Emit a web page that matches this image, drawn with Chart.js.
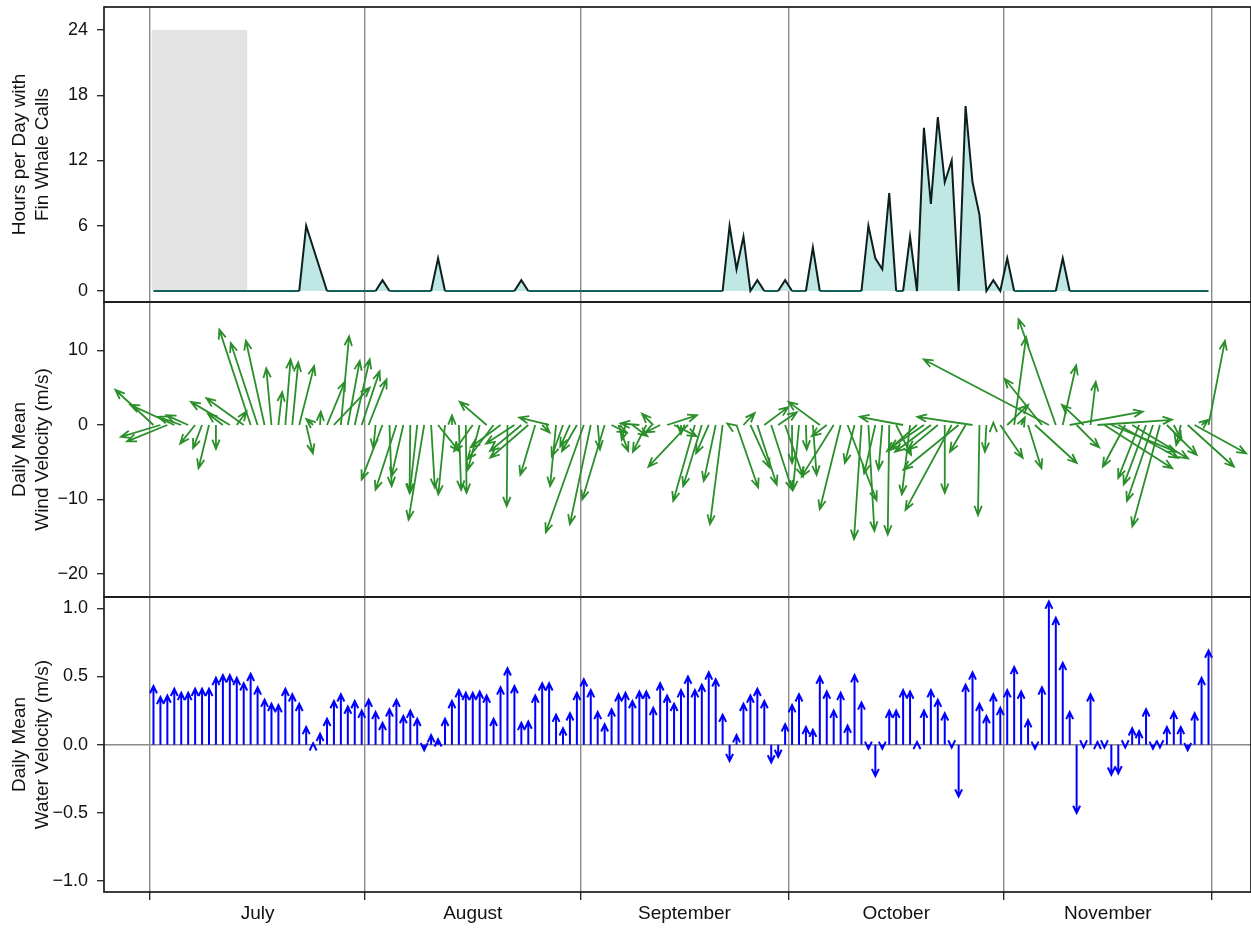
<!DOCTYPE html>
<html><head><meta charset="utf-8">
<script src="https://cdn.jsdelivr.net/npm/chart.js@4.4.1/dist/chart.umd.min.js"></script>
<style>
html,body{margin:0;padding:0;background:#fff;}
#wrap{position:relative;width:1251px;height:928px;overflow:hidden;}
#wrap canvas{position:absolute;left:0;top:0;}
</style></head><body>
<div id="wrap">
<canvas id="c1" width="1251" height="928"></canvas>
<canvas id="c2" width="1251" height="928"></canvas>
<canvas id="c3" width="1251" height="928"></canvas>
</div>
<script>
// ---------------- data ----------------
const monthNames = ['July', 'August', 'September', 'October', 'November'];
const monthStartDays = [0, 31, 62, 92, 123, 153];
const monthMidDays = [15.5, 46.5, 77, 107.5, 138];

// hours per day with fin whale calls (1 Jul .. 30 Nov)
const whaleHours = [
  0,0,0,0,0,0,0,0,0,0,
  0,0,0,0,0,0,0,0,0,0,
  0,0,6,4,2,0,0,0,0,0,
  0,0,0,1,0,0,0,0,0,0,
  0,3,0,0,0,0,0,0,0,0,
  0,0,0,1,0,0,0,0,0,0,
  0,0,0,0,0,0,0,0,0,0,
  0,0,0,0,0,0,0,0,0,0,
  0,0,0,6,2,5,0,1,0,0,
  0,1,0,0,0,4,0,0,0,0,
  0,0,0,6,3,2,9,0,0,5,
  0,15,8,16,10,12,0,17,10,7,
  0,1,0,3,0,0,0,0,0,0,
  0,3,0,0,0,0,0,0,0,0,
  0,0,0,0,0,0,0,0,0,0,
  0,0,0
];
const noDataStart = 0.25, noDataEnd = 14, noDataTop = 24;

// daily mean wind velocity components (m/s)
const windU = [
  -5.1,-5.3,-5.4,-5.9,-3.1,-2.9,-2.0,-1.2,-1.4,0.0,
  -2.0,-5.2,1.3,-5.0,-4.2,-3.6,-2.5,-0.7,0.5,0.7,
  0.8,2.0,0.9,-0.9,0.1,2.4,4.8,1.1,1.6,2.0,
  2.4,2.4,-0.3,-2.8,0.3,-2.8,-1.6,-0.1,-1.0,-2.1,
  0.5,2.8,-0.9,0.0,0.3,0.1,-2.5,-1.6,-3.6,-3.5,
  -4.0,-0.1,-3.8,-4.2,-5.1,-2.0,1.0,-4.0,-0.8,-1.5,
  -1.3,-2.0,-5.1,-2.8,0.3,-3.0,2.0,1.3,-0.5,2.0,
  -2.5,-1.8,-1.5,-2.0,4.0,3.0,0.0,-5.3,-2.9,-2.5,
  -1.7,-1.6,-1.7,-0.3,2.9,1.5,2.6,2.6,3.2,2.8,
  2.5,2.4,0.0,-0.8,0.1,0.5,-4.2,-2.0,-4.3,-2.8,
  3.9,-1.3,-1.0,0.8,-1.5,-0.5,-0.2,2.0,-5.8,-1.1,
  -4.0,-4.5,-4.8,-4.0,0.0,-6.2,-7.4,-2.1,-7.4,-0.2,
  -0.2,0.0,3.0,2.8,1.6,0.5,1.8,5.6,-5.0,-16.8,
  -5.0,1.8,9.8,3.0,-2.9,0.7,10.0,9.1,8.7,8.0,
  -3.0,7.5,-2.8,-3.0,-3.5,-3.7,4.0,1.0,-0.6,6.2,
  6.9,0.9,2.2
];
const windV = [
  4.7,-1.6,-2.2,2.7,1.1,1.3,-2.5,-3.1,-5.8,-3.2,
  1.5,3.1,1.8,3.6,12.8,11.0,11.3,7.6,4.4,8.8,
  8.4,7.9,-3.8,0.8,1.8,5.8,5.0,11.9,8.6,8.8,
  7.2,6.1,-3.1,-7.3,-8.2,-8.7,-6.9,-9.1,-9.1,-12.7,
  -8.4,-3.5,-9.3,1.3,-8.7,-9.1,-3.5,-6.0,3.1,-4.6,
  -3.0,-10.9,-2.5,-3.5,-4.4,-6.7,-1.0,1.0,-8.2,-4.2,
  -2.9,-3.5,-14.4,-13.3,-3.3,-10.0,-1.0,-3.5,-2.0,-1.5,
  0.2,-3.6,1.5,-1.0,1.3,-1.5,-1.2,-5.6,-10.2,-8.2,
  -3.8,-7.5,-13.3,0.2,-8.4,1.6,-5.7,-8.0,2.4,-8.7,
  1.7,-6.9,-5.1,-8.7,-3.3,-6.7,3.1,-1.5,-6.9,-11.3,
  -10.1,-5.1,-15.3,-14.2,-6.5,-6.0,-14.7,-4.0,1.1,-9.3,
  -3.5,-3.1,-3.6,-3.3,-9.1,-11.4,-6.0,-3.6,1.1,-12.1,
  -3.6,0.3,-4.4,2.7,11.8,1.0,-5.8,-5.1,6.2,8.8,
  14.2,8.0,1.8,-3.0,2.7,5.8,0.7,-5.8,-3.6,-4.4,
  -5.6,-4.5,-7.1,-8.0,-10.2,-13.6,-4.0,-2.0,-2.7,-5.6,
  -3.8,0.7,11.3
];

// daily mean water velocity, along-axis component (m/s)
const waterV = [
  0.43,0.35,0.36,0.41,0.38,0.38,0.41,0.41,0.41,0.49,
  0.51,0.51,0.49,0.45,0.52,0.42,0.33,0.30,0.29,0.41,
  0.37,0.30,0.13,0.01,0.08,0.19,0.32,0.37,0.28,0.32,
  0.25,0.33,0.24,0.16,0.26,0.33,0.21,0.25,0.19,-0.04,
  0.07,0.04,0.19,0.32,0.40,0.38,0.38,0.39,0.36,0.19,
  0.42,0.56,0.43,0.16,0.17,0.36,0.45,0.45,0.22,0.12,
  0.23,0.38,0.48,0.40,0.24,0.15,0.26,0.37,0.38,0.32,
  0.39,0.39,0.27,0.45,0.36,0.30,0.40,0.50,0.40,0.44,
  0.53,0.48,0.22,-0.12,0.07,0.30,0.36,0.41,0.32,-0.13,
  -0.09,0.15,0.29,0.37,0.13,0.11,0.50,0.39,0.25,0.38,
  0.14,0.51,0.31,-0.03,-0.23,-0.03,0.25,0.25,0.40,0.39,
  0.02,0.25,0.40,0.33,0.23,-0.02,-0.38,0.44,0.53,0.30,
  0.21,0.37,0.27,0.40,0.57,0.39,0.18,-0.03,0.42,1.05,
  0.93,0.60,0.24,-0.50,-0.02,0.37,0.02,-0.02,-0.22,-0.21,
  -0.02,0.12,0.10,0.26,-0.03,-0.02,0.13,0.24,0.13,-0.04,
  0.23,0.49,0.69
];

const whaleTicks = [0, 6, 12, 18, 24];
const windTicks = [-20, -10, 0, 10];
const waterTicks = [-1, -0.5, 0, 0.5, 1];

// day-of-season category for each daily value (noon of each day)
const dayCenter = whaleHours.map((_, i) => i + 0.5);

// ---------------- styling ----------------
const FAMILY = '"Liberation Sans", Arial, Helvetica, sans-serif';
const TICK_FONT = { family: FAMILY, size: 18 };
const TITLE_FONT = { family: FAMILY, size: 19 };
const TXT = '#111';
const GRID = '#8a8a8a';
const X_MIN = -6.627, X_MAX = 158.62;
const CLEAR = 'rgba(0,0,0,0)';

function xAxis(showLabels) {
  return {
    type: 'linear', min: X_MIN, max: X_MAX,
    afterBuildTicks: s => {
      const vals = showLabels ? monthStartDays.concat(monthMidDays).sort((a, b) => a - b) : monthStartDays.slice();
      s.ticks = vals.map(v => ({ value: v }));
    },
    afterFit: s => { s.height = showLabels ? 36 : 0; s.paddingLeft = 0; s.paddingRight = 0; },
    grid: {
      color: c => (c.tick && monthStartDays.includes(c.tick.value)) ? GRID : CLEAR,
      lineWidth: 1.4,
      drawTicks: showLabels, tickLength: 8,
      tickColor: c => (c.tick && monthStartDays.includes(c.tick.value)) ? '#222' : CLEAR,
      tickWidth: 1.3
    },
    border: { display: false },
    ticks: {
      display: showLabels, autoSkip: false, maxRotation: 0, minRotation: 0, padding: 2,
      font: TITLE_FONT, color: TXT,
      callback: v => { const k = monthMidDays.indexOf(v); return k >= 0 ? monthNames[k] : ''; }
    }
  };
}

function yAxis(min, max, tickVals, title, fmt, zeroLine) {
  return {
    type: 'linear', min: min, max: max,
    afterBuildTicks: s => { s.ticks = tickVals.map(v => ({ value: v })); },
    afterFit: s => { s.width = 104; s.paddingTop = 0; s.paddingBottom = 0; },
    grid: {
      drawOnChartArea: !!zeroLine,
      color: c => (zeroLine && c.tick && c.tick.value === 0) ? GRID : CLEAR,
      lineWidth: 1.4,
      drawTicks: true, tickLength: 7, tickColor: '#222', tickWidth: 1.3
    },
    border: { display: false },
    ticks: { padding: 9, font: TICK_FONT, color: TXT, callback: fmt },
    title: { display: true, text: title, font: TITLE_FONT, color: TXT, padding: { top: 8.5, bottom: 0 } }
  };
}

const minus = v => (v < 0 ? '\u2212' : '') + Math.abs(v);
const minus1 = v => (v < 0 ? '\u2212' : '') + Math.abs(v).toFixed(1);

const boxPlugin = {
  id: 'box',
  afterDraw(chart) {
    const a = chart.chartArea, ctx = chart.ctx;
    ctx.save();
    ctx.strokeStyle = '#1a1a1a';
    ctx.lineWidth = 1.7;
    ctx.strokeRect(a.left, a.top, a.right - a.left, a.bottom - a.top);
    ctx.restore();
  }
};

const noDataPlugin = {
  id: 'nodata',
  beforeDatasetsDraw(chart) {
    const xs = chart.scales.x, ys = chart.scales.y, ctx = chart.ctx;
    const x0 = xs.getPixelForValue(noDataStart), x1 = xs.getPixelForValue(noDataEnd);
    const y0 = ys.getPixelForValue(noDataTop), y1 = ys.getPixelForValue(0);
    ctx.save();
    ctx.fillStyle = '#e3e3e3';
    ctx.fillRect(x0, y0, x1 - x0, y1 - y0);
    ctx.restore();
  }
};

function drawArrow(ctx, x0, y0, x1, y1, head, ang) {
  const dx = x1 - x0, dy = y1 - y0;
  if (Math.hypot(dx, dy) < 0.05) return;
  const a = Math.atan2(dy, dx);
  ctx.beginPath();
  ctx.moveTo(x0, y0); ctx.lineTo(x1, y1);
  ctx.moveTo(x1 - head * Math.cos(a - ang), y1 - head * Math.sin(a - ang));
  ctx.lineTo(x1, y1);
  ctx.lineTo(x1 - head * Math.cos(a + ang), y1 - head * Math.sin(a + ang));
  ctx.stroke();
}

function arrowPlugin(uArr, vArr, color, width, head, ang) {
  return {
    id: 'arrows',
    afterDatasetsDraw(chart) {
      const xs = chart.scales.x, ys = chart.scales.y, ctx = chart.ctx, a = chart.chartArea;
      const y0 = ys.getPixelForValue(0);
      const unit = y0 - ys.getPixelForValue(1);
      ctx.save();
      ctx.beginPath(); ctx.rect(a.left, a.top, a.right - a.left, a.bottom - a.top); ctx.clip();
      ctx.strokeStyle = color; ctx.lineWidth = width; ctx.lineCap = 'butt'; ctx.lineJoin = 'miter';
      for (let i = 0; i < vArr.length; i++) {
        const x0 = xs.getPixelForValue(dayCenter[i]);
        const u = uArr ? uArr[i] : 0;
        drawArrow(ctx, x0, y0, x0 + u * unit, ys.getPixelForValue(vArr[i]), head, ang);
      }
      ctx.restore();
    }
  };
}

const common = { responsive: false, animation: false, devicePixelRatio: 1, events: [],
  plugins: { legend: { display: false }, tooltip: { enabled: false } } };

// ---------- panel 1 : whale calls ----------
new Chart(document.getElementById('c1'), {
  type: 'line',
  data: { datasets: [{
    data: whaleHours.map((h, i) => ({ x: dayCenter[i], y: h })),
    borderColor: '#0c1f1e', borderWidth: 2, backgroundColor: '#bfe7e3',
    segment: { borderColor: c => (c.p0.parsed.y === 0 && c.p1.parsed.y === 0) ? '#14605b' : '#0c1f1e' },
    fill: 'origin', pointRadius: 0, tension: 0
  }] },
  options: Object.assign({}, common, {
    layout: { padding: { top: 7, bottom: 928 - 302, left: 0, right: 0 } },
    scales: { x: xAxis(false), y: yAxis(-1.0115, 26.115, whaleTicks, ['Hours per Day with', 'Fin Whale Calls'], v => String(v), false) }
  }),
  plugins: [noDataPlugin, boxPlugin]
});

// ---------- panel 2 : wind ----------
new Chart(document.getElementById('c2'), {
  type: 'scatter',
  data: { datasets: [{ data: windV.map((v, i) => ({ x: dayCenter[i], y: v })), pointRadius: 0, showLine: false }] },
  options: Object.assign({}, common, {
    layout: { padding: { top: 302, bottom: 928 - 597, left: 0, right: 0 } },
    scales: { x: xAxis(false), y: yAxis(-23.09, 16.51, windTicks, ['Daily Mean', 'Wind Velocity (m/s)'], minus, false) }
  }),
  plugins: [arrowPlugin(windU, windV, '#2a8f2a', 1.8, 10, 0.38), boxPlugin]
});

// ---------- panel 3 : water ----------
new Chart(document.getElementById('c3'), {
  type: 'scatter',
  data: { datasets: [{ data: waterV.map((v, i) => ({ x: dayCenter[i], y: v })), pointRadius: 0, showLine: false }] },
  options: Object.assign({}, common, {
    layout: { padding: { top: 597, bottom: 0, left: 0, right: 0 } },
    scales: { x: xAxis(true), y: yAxis(-1.080, 1.083, waterTicks, ['Daily Mean', 'Water Velocity (m/s)'], minus1, true) }
  }),
  plugins: [arrowPlugin(null, waterV, '#0000ff', 2, 8, 0.45), boxPlugin]
});
</script>
</body></html>
